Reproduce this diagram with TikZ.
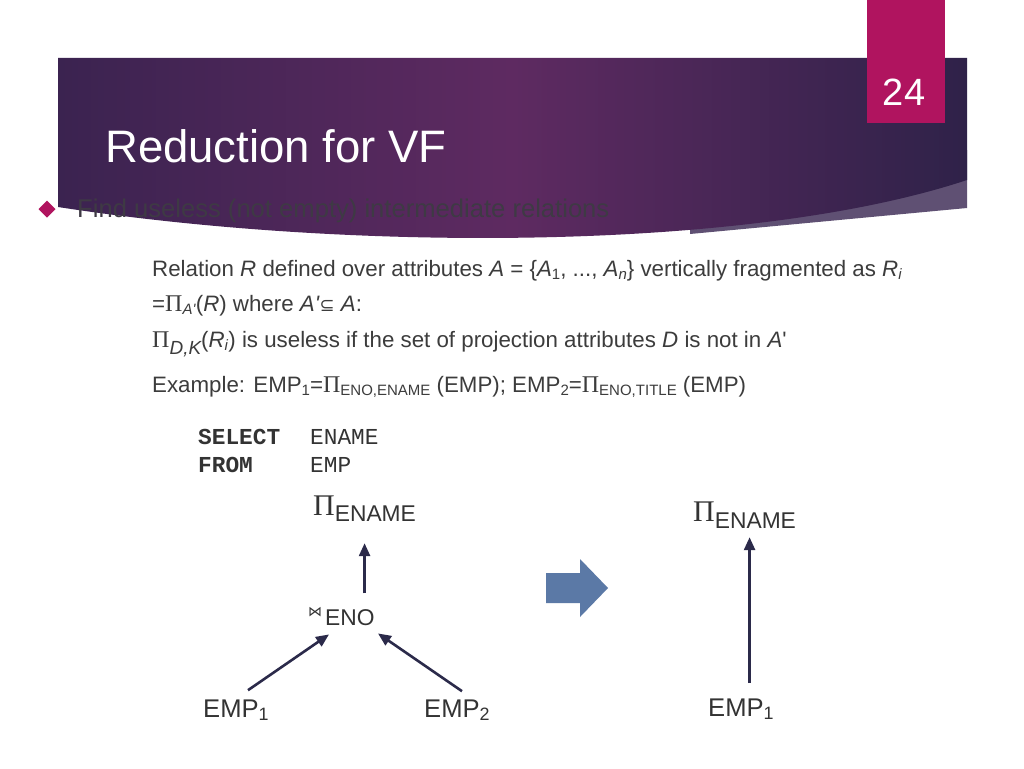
\documentclass[tikz,border=0pt]{standalone}
\usepackage{fontspec}
\setmainfont{Liberation Sans}
\setmonofont{Liberation Mono}
\newfontfamily\serifpi{Liberation Serif}
\newfontfamily\symf{DejaVu Sans}
\usetikzlibrary{arrows.meta,calc}
\definecolor{bandL}{HTML}{3B2350}
\definecolor{bandM}{HTML}{5E2A61}
\definecolor{bandR}{HTML}{2F2249}
\definecolor{wedge}{HTML}{5F5073}
\definecolor{magentaA}{HTML}{B0145F}
\definecolor{txt}{HTML}{3C3C3C}
\definecolor{bulletc}{HTML}{3E3A44}
\definecolor{treetxt}{HTML}{333333}
\definecolor{arrowc}{HTML}{2B2A4A}
\definecolor{bluearrow}{HTML}{5B79A6}
\newcommand{\PiS}{{\serifpi\fontsize{24}{24}\selectfont Π}}
\newcommand{\qt}{\textquotesingle}
\newcommand{\smallsub}[1]{\raisebox{-3.5pt}{\fontsize{15}{15}\selectfont #1}}
\begin{document}
\begin{tikzpicture}[x=1pt,y=-1pt,
  lbl/.style={anchor=base west, inner sep=0pt},
  body/.style={lbl, text=txt, font=\fontsize{22.3}{27}\selectfont},
  code/.style={lbl, text=treetxt, font=\ttfamily\fontsize{22.8}{27}\selectfont},
  treenode/.style={lbl, text=treetxt, font=\fontsize{25.6}{30}\selectfont},
  arr/.style={draw=arrowc, line width=2.6pt, -{Triangle[length=13pt,width=11pt]}}]
\useasboundingbox (0,0) rectangle (1024,768);
\fill[white] (0,0) rectangle (1024,768);
% header band
\fill[wedge] (690,234) -- (967,208) -- (967,150) -- (690,150) -- cycle;
\shade[left color=bandL, right color=bandR, middle color=bandM]
  (58,58) -- (967,58) -- (967,180) .. controls (750,252) and (350,252) .. (58,207) -- cycle;
\fill[magentaA] (867,0) rectangle (945,123);
\node[anchor=center, inner sep=0pt, text=white, font=\fontsize{38}{38}\selectfont] (pg) at (904,92) {24};
\node[lbl, text=white, font=\fontsize{45.5}{50}\selectfont] (title) at (105,162) {Reduction for VF};
% bullet
\fill[magentaA] (38.5,209) -- (47,200.5) -- (55.5,209) -- (47,217.5) -- cycle;
\node[lbl, text=bulletc, font=\fontsize{25.6}{30}\selectfont] (b1) at (77,217) {Find useless (not empty) intermediate relations};
% body text
\node[body] (l1) at (152,276) {Relation \textit{R} defined over attributes \textit{A} = \{\textit{A}\smallsub{1}, ..., \textit{A}\smallsub{\textit{n}}\} vertically fragmented as \textit{R}\smallsub{\textit{i}}};
\node[body] (l2) at (152,311) {=\PiS\smallsub{\textit{A\qt}}(\textit{R}) where \textit{A\qt}{\symf\fontsize{18}{18}\selectfont ⊆} \textit{A}:};
\node[body] (l3) at (152,347) {\PiS\raisebox{-7pt}{\fontsize{19}{19}\selectfont\itshape D,K}(\textit{R}\smallsub{\textit{i}}) is useless if the set of projection attributes \textit{D} is not in \textit{A}\qt};
\node[body] (l4) at (152,392) {Example: EMP\smallsub{1}=\PiS\smallsub{ENO,ENAME} (EMP); EMP\smallsub{2}=\PiS\smallsub{ENO,TITLE} (EMP)};
% SQL
\node[code, font=\ttfamily\bfseries\fontsize{22.8}{27}\selectfont] (sel) at (198,444) {SELECT};
\node[code, font=\ttfamily\bfseries\fontsize{22.8}{27}\selectfont] (frm) at (198,472) {FROM};
\node[code] (selv) at (310,444) {ENAME};
\node[code] (frmv) at (310,472) {EMP};
% left tree
\node[treenode] (p1) at (313,515) {{\serifpi\fontsize{30}{30}\selectfont Π}\raisebox{-6pt}{\fontsize{22.8}{27}\selectfont ENAME}};
\node[treenode] (j) at (308,625) {\raisebox{9pt}{\symf\fontsize{14}{14}\selectfont ⋈}\hspace{3pt}{\fontsize{22.8}{27}\selectfont ENO}};
\node[treenode] (e1) at (203,717) {EMP\textsubscript{1}};
\node[treenode] (e2) at (424,717) {EMP\textsubscript{2}};
\coordinate (t1) at ([yshift=-22pt]p1.south);
\coordinate (s1) at ([yshift=32pt]j.south);
\draw[arr] (s1 -| t1) -- (t1);
\draw[arr] ([shift={(45,-9)}]e1.north west) -- ([shift={(21,9)}]j.south west);
\draw[arr] ([shift={(38,-8)}]e2.north west) -- ([shift={(70,8)}]j.south west);
% block arrow
\fill[bluearrow] (546,573) -- (580,573) -- (580,559) -- (608,588) -- (580,617) -- (580,603) -- (546,603) -- cycle;
% right tree
\node[treenode] (p2) at (693,521) {{\serifpi\fontsize{30}{30}\selectfont Π}\raisebox{-7pt}{\fontsize{22.8}{27}\selectfont ENAME}};
\node[treenode] (e3) at (708,716) {EMP\textsubscript{1}};
\coordinate (t2) at ([shift={(5,9)}]p2.south);
\coordinate (s2) at ([yshift=15pt]e3.north);
\draw[arr] (s2 -| t2) -- (t2);
\end{tikzpicture}
\end{document}
